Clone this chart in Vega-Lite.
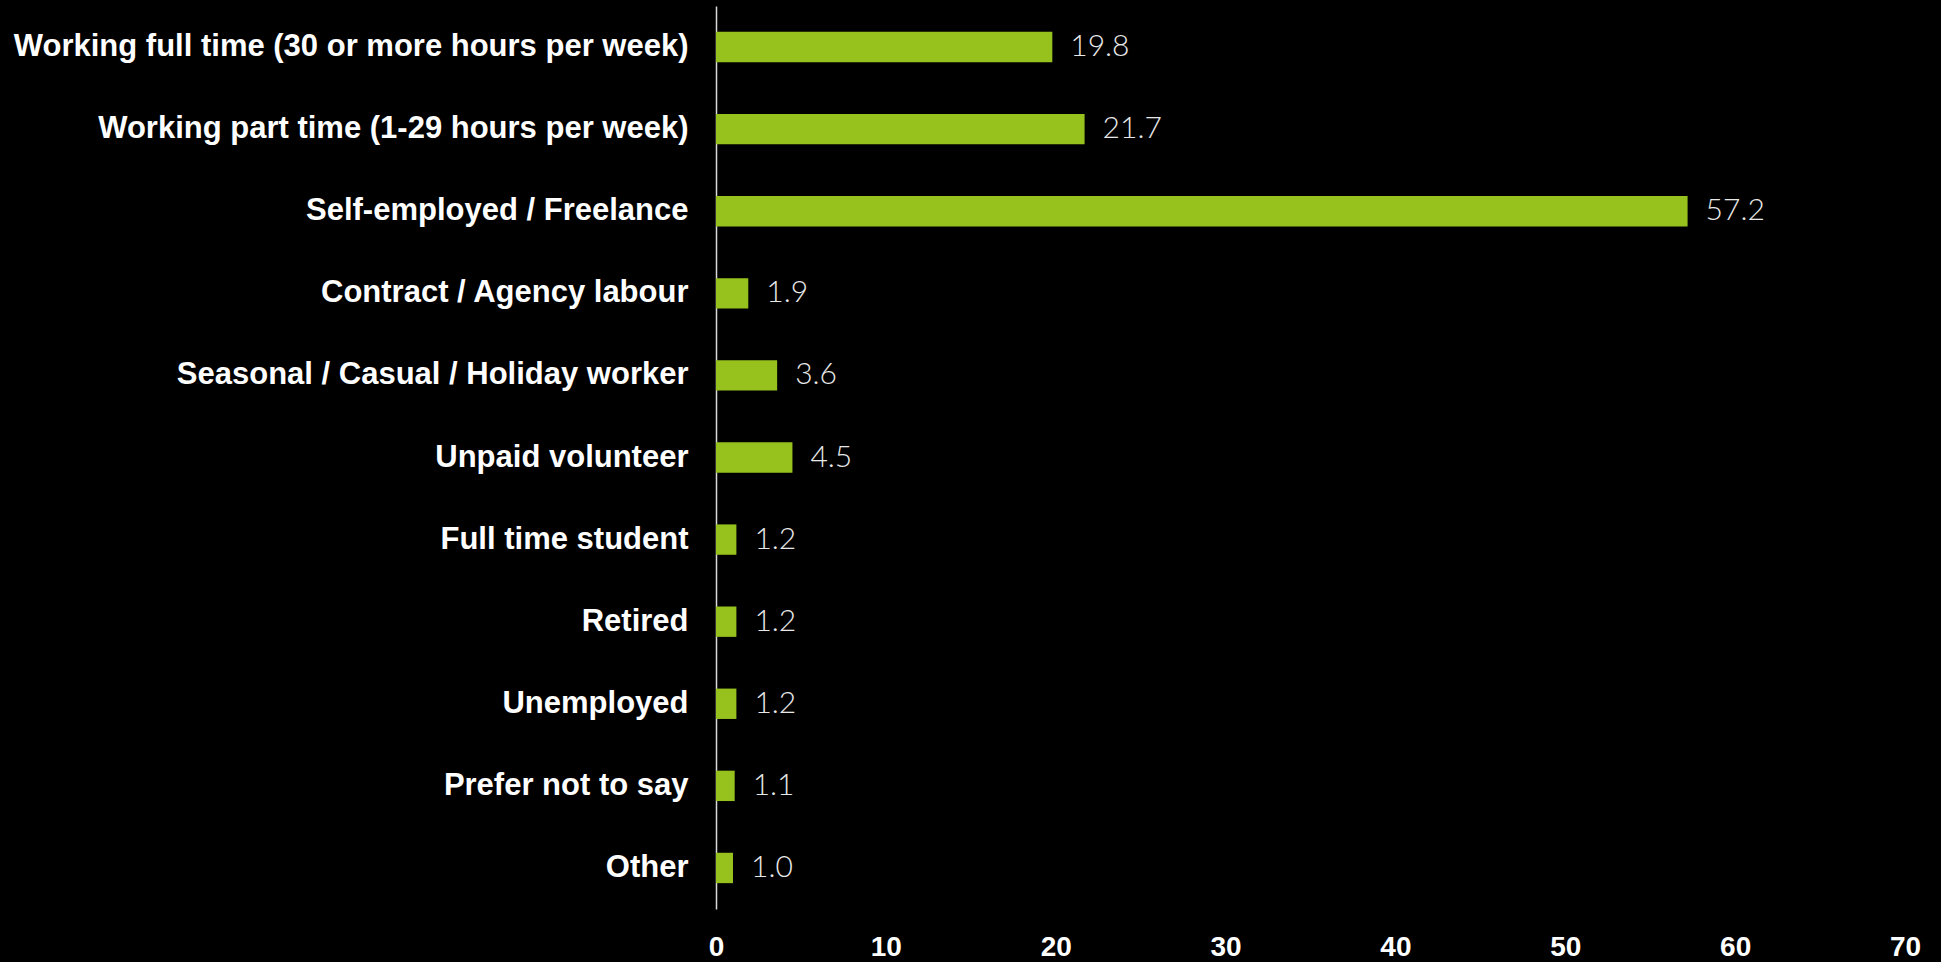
{
  "$schema": "https://vega.github.io/schema/vega-lite/v6.json",
  "autosize": {"type": "none"},
  "width": 1189,
  "height": 903,
  "padding": {"left": 716, "top": 6, "right": 36, "bottom": 53},
  "background": "#000000",
  "config": {"view": {"stroke": null}},
  "data": {
    "values": [
      {"category": "Working full time (30 or more hours per week)", "value": 19.8},
      {"category": "Working part time (1-29 hours per week)", "value": 21.7},
      {"category": "Self-employed / Freelance", "value": 57.2},
      {"category": "Contract / Agency labour", "value": 1.9},
      {"category": "Seasonal / Casual / Holiday worker", "value": 3.6},
      {"category": "Unpaid volunteer", "value": 4.5},
      {"category": "Full time student", "value": 1.2},
      {"category": "Retired", "value": 1.2},
      {"category": "Unemployed", "value": 1.2},
      {"category": "Prefer not to say", "value": 1.1},
      {"category": "Other", "value": 1.0}
    ]
  },
  "encoding": {
    "y": {
      "field": "category",
      "type": "nominal",
      "sort": null,
      "scale": {"paddingInner": 0.63, "paddingOuter": 0.315},
      "axis": {
        "title": null,
        "domain": true,
        "domainColor": "#d9d9d9",
        "domainWidth": 1.5,
        "ticks": false,
        "labelPadding": 28,
        "labelColor": "#ffffff",
        "labelFont": "Liberation Sans",
        "labelFontWeight": "bold",
        "labelFontSize": 31,
        "labelLimit": 800
      }
    },
    "x": {
      "field": "value",
      "type": "quantitative",
      "scale": {"domain": [0, 70], "nice": false},
      "axis": {
        "title": null,
        "values": [0, 10, 20, 30, 40, 50, 60, 70],
        "domain": false,
        "ticks": false,
        "grid": false,
        "labelPadding": 24,
        "labelColor": "#ffffff",
        "labelFont": "Liberation Sans",
        "labelFontWeight": "bold",
        "labelFontSize": 28,
        "labelFlush": false
      }
    }
  },
  "layer": [
    {"mark": {"type": "bar", "color": "#97c21e"}},
    {
      "mark": {"type": "text", "align": "left", "baseline": "middle", "dx": 18, "fontSize": 30, "font": "Lato", "fontWeight": 300, "color": "#e8e8e8"},
      "encoding": {"text": {"field": "value", "type": "quantitative", "format": ".1f"}}
    }
  ]
}
